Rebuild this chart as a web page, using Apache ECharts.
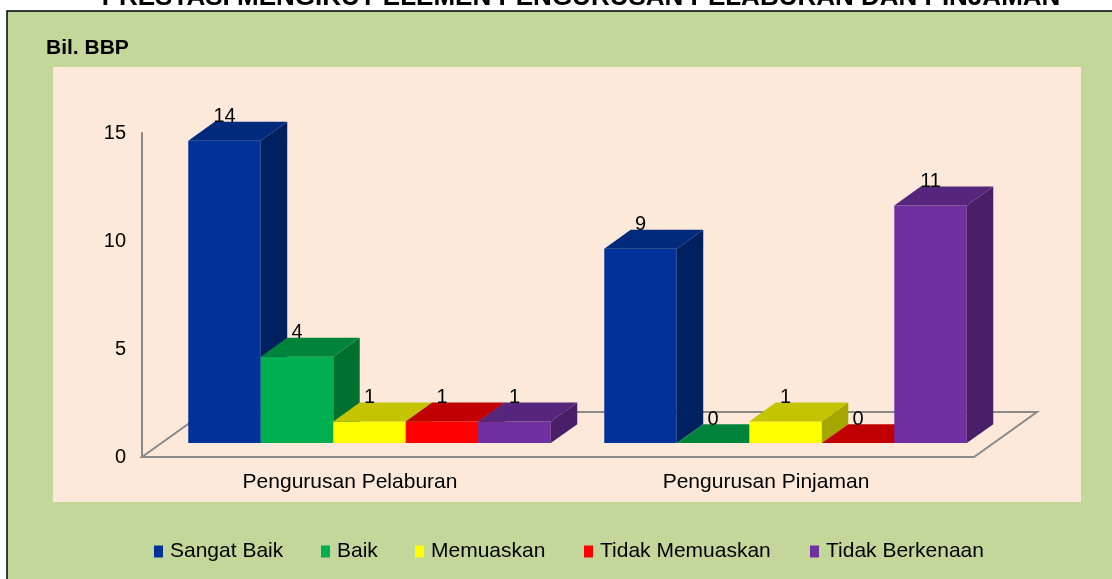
<!DOCTYPE html>
<html>
<head>
<meta charset="utf-8">
<title>Prestasi Mengikut Elemen Pengurusan Pelaburan dan Pinjaman</title>
<script src="https://cdn.jsdelivr.net/npm/echarts@6/dist/echarts.min.js"></script>
<style>
  html, body { margin: 0; padding: 0; background: #ffffff; }
  #chart { width: 1112px; height: 579px; }
</style>
</head>
<body>
<div id="chart"></div>
<script>
// Categories, series values and axis ticks
const categories = ['Pengurusan Pelaburan', 'Pengurusan Pinjaman'];
const seriesNames = ['Sangat Baik', 'Baik', 'Memuaskan', 'Tidak Memuaskan', 'Tidak Berkenaan'];
const sangatBaik = [14, 9];
const baik = [4, 0];
const memuaskan = [1, 1];
const tidakMemuaskan = [1, 0];
const tidakBerkenaan = [1, 11];
const yMin = 0, yMax = 15, yStep = 5;

const seriesValues = [sangatBaik, baik, memuaskan, tidakMemuaskan, tidakBerkenaan];

// Face colours of each 3D bar: front, top, side
const palette = [
  { front: '#003399', top: '#002a7c', side: '#002060' },
  { front: '#00b050', top: '#00843c', side: '#007030' },
  { front: '#ffff00', top: '#c4c400', side: '#a6a600' },
  { front: '#ff0000', top: '#c00000', side: '#a00000' },
  { front: '#7030a0', top: '#56267c', side: '#4a1f68' }
];

// Left edge of each legend entry
const legendLeft = [154, 321, 415, 584, 810];

const FONT = '"Liberation Sans", Arial, sans-serif';
const DEPTH = [63, -45];      // floor depth vector in pixels
const FRONT = 0.31;           // bar front plane, fraction of the depth
const BACK = 0.73;            // bar back plane, fraction of the depth
const BAR_FRAC = 0.1743;      // bar width as a fraction of a category band
const AXIS_GREY = '#8a8a8a';

// Floor of the 3D plot: a parallelogram under the categories
function renderFloor(params, api) {
  const band = api.size([1, 0])[0];
  const a = api.coord([0, 0]);
  const b = api.coord([categories.length - 1, 0]);
  const xl = a[0] - band / 2, xr = b[0] + band / 2, y = a[1];
  return {
    type: 'polygon',
    shape: { points: [[xl, y], [xr, y], [xr + DEPTH[0], y + DEPTH[1]], [xl + DEPTH[0], y + DEPTH[1]]] },
    style: { fill: 'none', stroke: AXIS_GREY, lineWidth: 2 },
    silent: true
  };
}

// One 3D bar: front face, top face, side face and the value text
function makeBarRenderer(idx) {
  const col = palette[idx];
  return function (params, api) {
    const cat = api.value(0);
    const val = api.value(1);
    const base = api.coord([cat, 0]);
    const peak = api.coord([cat, val]);
    const band = api.size([1, 0])[0];
    const w = band * BAR_FRAC;
    const x = base[0] - 2.5 * w + idx * w + DEPTH[0] * FRONT;
    const yb = base[1] + DEPTH[1] * FRONT;
    const h = base[1] - peak[1];
    const yt = yb - h;
    const dx = DEPTH[0] * (BACK - FRONT);
    const dy = DEPTH[1] * (BACK - FRONT);
    const children = [];
    if (h > 0) {
      children.push({
        type: 'rect',
        shape: { x: x, y: yt, width: w, height: h },
        style: { fill: col.front }
      });
      children.push({
        type: 'polygon',
        shape: { points: [[x + w, yt], [x + w + dx, yt + dy], [x + w + dx, yb + dy], [x + w, yb]] },
        style: { fill: col.side }
      });
    }
    children.push({
      type: 'polygon',
      shape: { points: [[x, yt], [x + w, yt], [x + w + dx, yt + dy], [x + dx, yt + dy]] },
      style: { fill: col.top }
    });
    children.push({
      type: 'text',
      style: {
        x: x + w / 2,
        y: yt + dy - 5,
        text: String(val),
        fill: '#000000',
        font: '20px ' + FONT,
        align: 'center',
        verticalAlign: 'middle'
      },
      z2: 10
    });
    return { type: 'group', children: children };
  };
}

const chart = echarts.init(document.getElementById('chart'), null, { renderer: 'canvas' });

const series = [{
  name: 'floor',
  type: 'custom',
  renderItem: renderFloor,
  data: [[0, 0]],
  encode: { x: 0, y: 1 },
  silent: true,
  z: 1
}];
seriesNames.forEach(function (name, i) {
  series.push({
    name: name,
    type: 'custom',
    renderItem: makeBarRenderer(i),
    data: seriesValues[i].map(function (v, c) { return [c, v]; }),
    encode: { x: 0, y: 1 },
    itemStyle: { color: palette[i].front },
    z: 2
  });
});

// One legend component per entry so each sits at its own position
const legends = seriesNames.map(function (name, i) {
  return {
    data: [name],
    left: legendLeft[i],
    top: 541,
    padding: 0,
    icon: 'rect',
    itemWidth: 9,
    itemHeight: 12,
    textStyle: { fontSize: 21, color: '#000000', fontFamily: FONT, padding: [0, 0, 0, 2] },
    selectedMode: false
  };
});

chart.setOption({
  animation: false,
  backgroundColor: '#ffffff',
  textStyle: { fontFamily: FONT },
  graphic: [
    {
      type: 'rect',
      shape: { x: 7, y: 11, width: 1120, height: 600 },
      style: { fill: '#c4d79b', stroke: '#000000', lineWidth: 1.5 },
      z: -10, silent: true
    },
    {
      type: 'rect',
      shape: { x: 53, y: 67, width: 1028, height: 435 },
      style: { fill: '#fde9d9' },
      z: -9, silent: true
    },
    {
      type: 'text',
      style: {
        x: 581, y: -2,
        text: 'PRESTASI MENGIKUT ELEMEN PENGURUSAN PELABURAN DAN PINJAMAN',
        font: 'bold 26px ' + FONT,
        fill: '#000000',
        align: 'center',
        verticalAlign: 'middle'
      },
      z: 5, silent: true
    },
    {
      type: 'text',
      style: {
        x: 46, y: 48,
        text: 'Bil. BBP',
        font: 'bold 21px ' + FONT,
        fill: '#000000',
        align: 'left',
        verticalAlign: 'middle'
      },
      z: 5, silent: true
    }
  ],
  legend: legends,
  grid: { left: 142, right: 138, top: 133, bottom: 122, containLabel: false },
  xAxis: {
    type: 'category',
    data: categories,
    axisLine: { show: false },
    axisTick: { show: false },
    axisLabel: { fontSize: 21, color: '#000000', margin: 15, fontFamily: FONT },
    splitLine: { show: false }
  },
  yAxis: {
    type: 'value',
    min: yMin,
    max: yMax,
    interval: yStep,
    axisLine: { show: true, lineStyle: { color: AXIS_GREY, width: 2 } },
    axisTick: { show: false },
    splitLine: { show: false },
    axisLabel: { fontSize: 20, color: '#000000', margin: 16, fontFamily: FONT }
  },
  series: series
});
</script>
</body>
</html>
